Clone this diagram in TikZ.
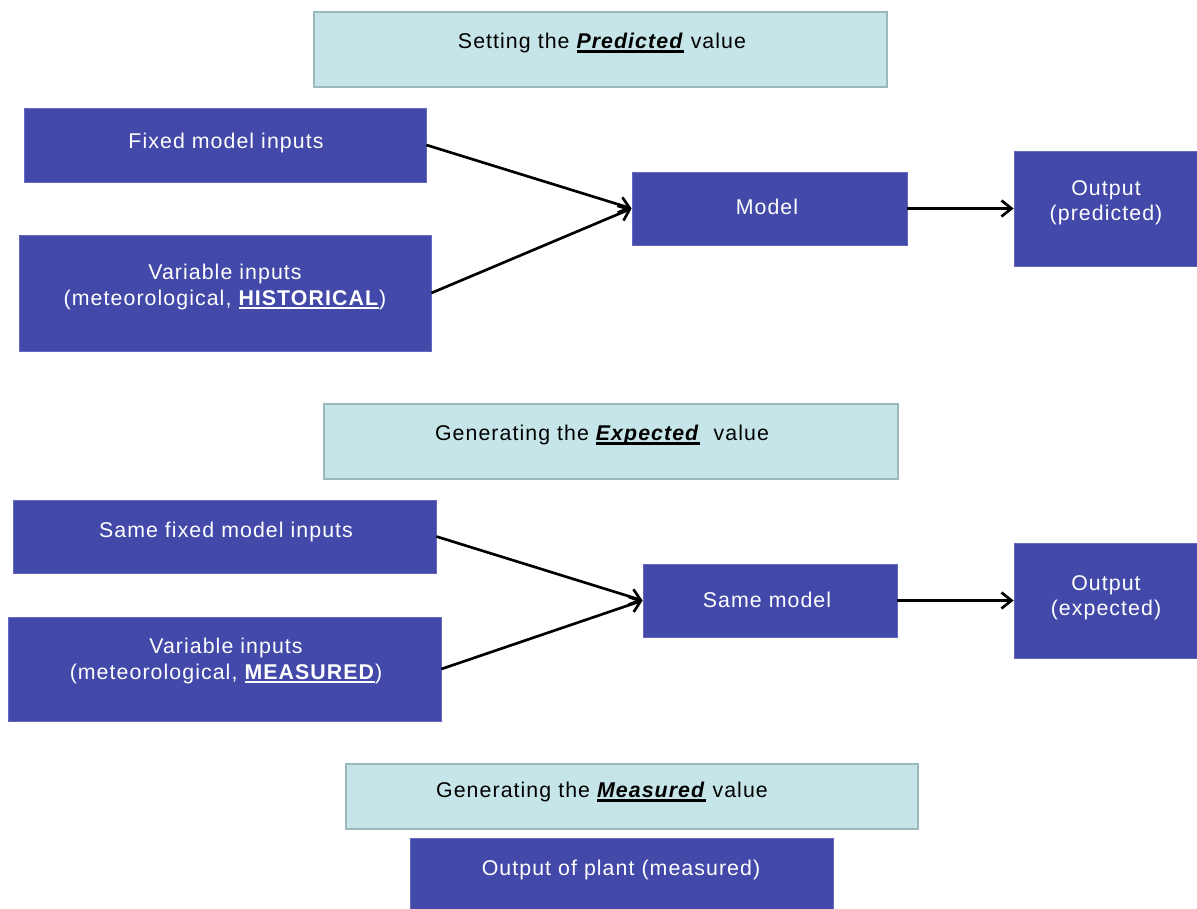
\documentclass[tikz,border=0pt]{standalone}
\usepackage{fontspec}
\setmainfont{Liberation Sans}[LetterSpace=5]
\usetikzlibrary{fit,arrows.meta}
\definecolor{boxblue}{HTML}{4349A9}
\definecolor{boxedge}{HTML}{6468BE}
\definecolor{headfill}{HTML}{C6E5E8}
\definecolor{headedge}{HTML}{9CB8BC}
\newsavebox{\ulbox}
\newcommand{\thickul}[1]{\sbox{\ulbox}{#1}\rlap{\rule[-3pt]{\wd\ulbox}{1.6pt}}\usebox{\ulbox}}
\begin{document}
\begin{tikzpicture}[x=0.75pt,y=-0.75pt,
  bluebox/.style={fill=boxblue,draw=boxedge,line width=0.6pt,inner sep=0pt},
  headbox/.style={fill=headfill,draw=headedge,line width=2.2pt,inner sep=0pt},
  wtxt/.style={text=white,font=\fontsize{16}{19}\selectfont,align=center,inner sep=0pt},
  btxt/.style={text=black,font=\fontsize{16}{19}\selectfont,align=center,inner sep=0pt},
  conn/.style={line width=2pt,-{Straight Barb[length=7.5pt,width=12pt,line width=2pt]}}]
\useasboundingbox (0,0) rectangle (1197,909);
% section 1
\node[headbox,fit={(314,12)(887,87)}] (h1) {};
\node[btxt] (h1t) at (602,43) {Setting the \thickul{\textbf{\textit{Predicted}}} value};
\node[bluebox,fit={(24,108)(426,182)}] (fix1) {};
\node[wtxt] (fix1t) at (226,143) {Fixed model inputs};
\node[bluebox,fit={(19,235)(431,351)}] (var1) {};
\node[wtxt] (var1t) at (225,287) {Variable inputs\\(meteorological, \thickul{\textbf{HISTORICAL}})};
\node[bluebox,fit={(632,172)(907,245)}] (mod1) {};
\node[wtxt] (mod1t) at (767,207) {Model};
\node[bluebox,fit={(1014,151)(1197,266)}] (out1) {};
\node[wtxt] (out1t) at (1106,203) {Output\\(predicted)};
\draw[conn] (fix1.east) -- (mod1.west);
\draw[conn] (var1.east) -- (mod1.west);
\draw[conn] (mod1.east) -- (out1.west);
% section 2
\node[headbox,fit={(324,404)(898,479)}] (h2) {};
\node[btxt] (h2t) at (602,435) {Generating the \thickul{\textbf{\textit{Expected}}}\ \ value};
\node[bluebox,fit={(13,500)(436,573)}] (fix2) {};
\node[wtxt] (fix2t) at (226,532) {Same fixed model inputs};
\node[bluebox,fit={(8,617)(441,721)}] (var2) {};
\node[wtxt] (var2t) at (226,661) {Variable inputs\\(meteorological, \thickul{\textbf{MEASURED}})};
\node[bluebox,fit={(643,564)(897,637)}] (mod2) {};
\node[wtxt] (mod2t) at (767,600) {Same model};
\node[bluebox,fit={(1014,543)(1197,658)}] (out2) {};
\node[wtxt] (out2t) at (1106,598) {Output\\(expected)};
\draw[conn] (fix2.east) -- (mod2.west);
\draw[conn] (var2.east) -- (mod2.west);
\draw[conn] (mod2.east) -- (out2.west);
% section 3
\node[headbox,fit={(346,764)(918,829)}] (h3) {};
\node[btxt] (h3t) at (602,792) {Generating the \thickul{\textbf{\textit{Measured}}} value};
\node[bluebox,fit={(410,838)(833,912)}] (plant) {};
\node[wtxt] (plantt) at (621,870) {Output of plant (measured)};
\end{tikzpicture}
\end{document}
